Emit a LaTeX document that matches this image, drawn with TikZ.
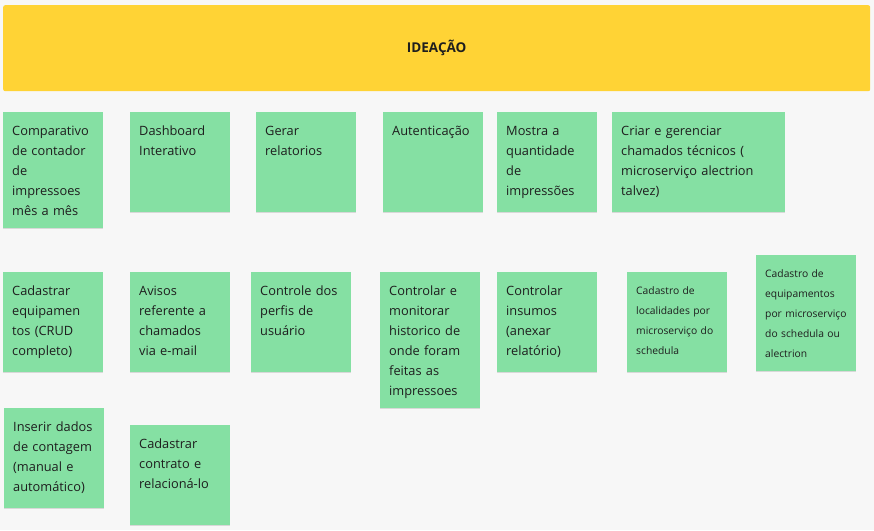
\documentclass[tikz,border=0pt]{standalone}
\usepackage{fontspec}
\setmainfont{Open Sans}
\usetikzlibrary{shadows}
\definecolor{fundo}{HTML}{F7F7F7}
\definecolor{amarelo}{HTML}{FFD335}
\definecolor{verde}{HTML}{85E0A3}
\definecolor{tinta}{HTML}{1E1E1E}

\tikzset{
  nota/.style={rectangle, fill=verde, anchor=north west, align=left,
    inner xsep=9pt, inner ysep=9pt, text width=82pt, text height=14pt,
    text depth=#1, text=tinta, font=\fontsize{12.8}{20}\selectfont,
    execute at begin node={\hyphenpenalty=10000\exhyphenpenalty=10000},
    drop shadow={shadow xshift=0pt, shadow yshift=-1.2pt, opacity=0.12, fill=black}},
  nota/.default=68pt,
  miuda/.style={font=\fontsize{10.3}{20}\selectfont, text height=13pt},
  titulo/.style={rectangle, fill=amarelo, anchor=north west, rounded corners=2pt,
    minimum width=867pt, minimum height=86pt, text=tinta,
    font=\bfseries\fontsize{13.5}{15}\selectfont}
}

\begin{document}
\begin{tikzpicture}[x=1pt, y=-1pt]
    \fill[fundo] (0,0) rectangle (874,530);
    \useasboundingbox (0,0) rectangle (874,530);

    \node[titulo] (ideacao) at (3,5) {IDEAÇÃO};

    % primeira linha
    \node[nota=84pt] (comparativo) at (3,112) {Comparativo\\de contador\\de\\impressoes\\mês a mês};
    \node[nota] (dashboard) at (130,112) {Dashboard\\Interativo};
    \node[nota] (relatorios) at (256,112) {Gerar\\relatorios};
    \node[nota] (autenticacao) at (383,112) {Autenticação};
    \node[nota] (quantidade) at (497,112) {Mostra a\\quantidade\\de\\impressões};
    \node[nota, text width=155pt] (chamados) at (612,112) {Criar e gerenciar\\chamados técnicos (\\microserviço alectrion\\talvez)};

    % segunda linha
    \node[nota] (equipamentos) at (3,272) {Cadastrar\\equipamen\\tos (CRUD\\completo)};
    \node[nota] (avisos) at (130,272) {Avisos\\referente a\\chamados\\via e-mail};
    \node[nota] (perfis) at (251,272) {Controle dos\\perfis de\\usuário};
    \node[nota=104pt] (historico) at (380,272) {Controlar e\\monitorar\\historico de\\onde foram\\feitas as\\impressoes};
    \node[nota] (insumos) at (497,272) {Controlar\\insumos\\(anexar\\relatório)};
    \node[nota=69pt, miuda] (localidades) at (627,272) {Cadastro de\\localidades por\\microserviço do\\schedula};
    \node[nota=85pt, miuda] (microservico) at (756,255) {Cadastro de\\equipamentos\\por microserviço\\do schedula ou\\alectrion};

    % terceira linha
    \node[nota] (contagem) at (4,408) {Inserir dados\\de contagem\\(manual e\\automático)};
    \node[nota] (contrato) at (130,425) {Cadastrar\\contrato e\\relacioná-lo};
\end{tikzpicture}
\end{document}
